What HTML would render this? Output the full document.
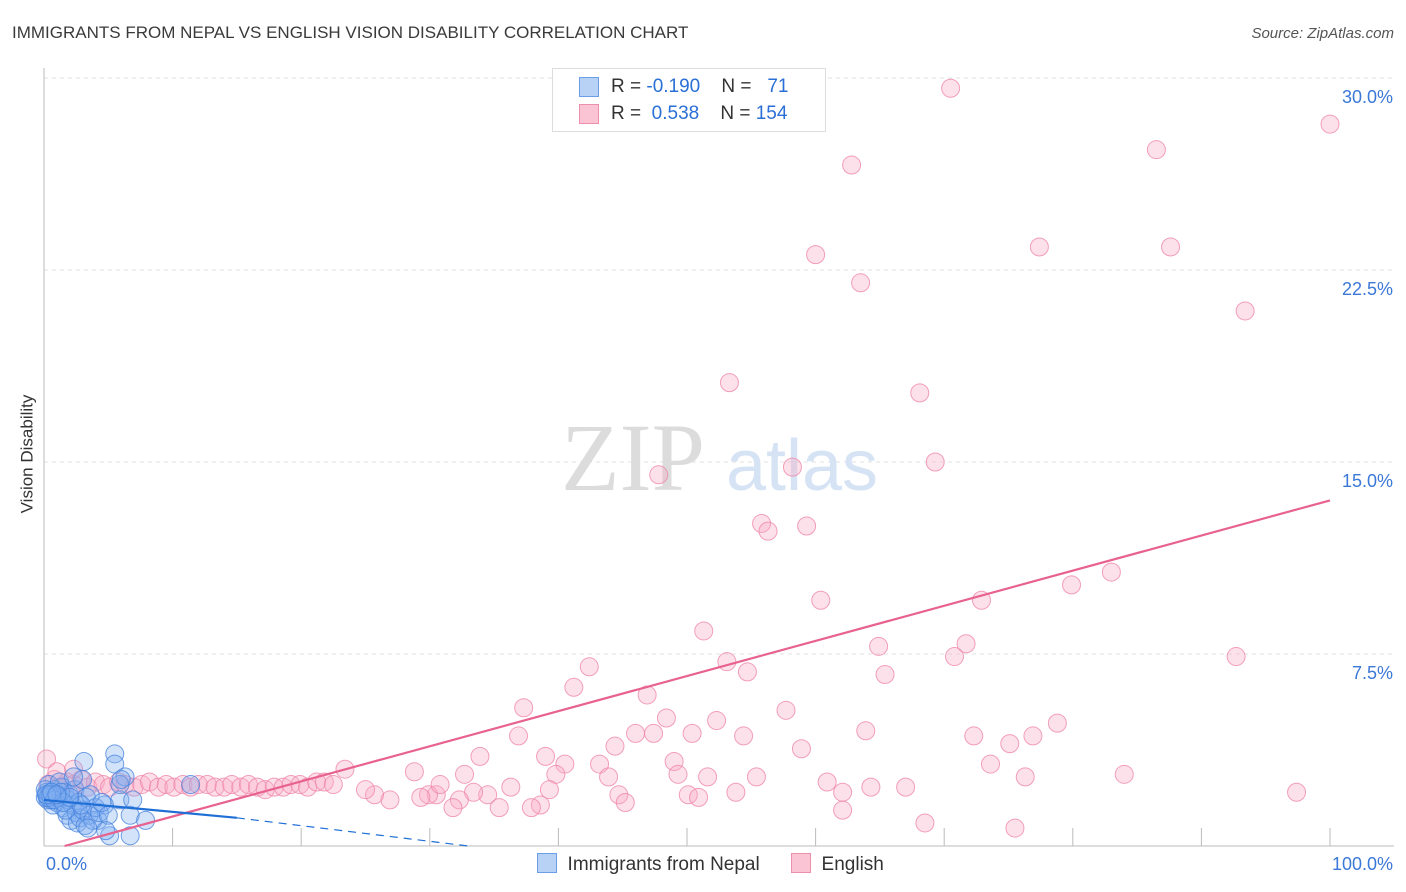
<!DOCTYPE html>
<html><head><meta charset="utf-8">
<style>
body{margin:0;background:#fff;font-family:"Liberation Sans",sans-serif;}
#wrap{position:relative;width:1406px;height:892px;overflow:hidden;}
.t{position:absolute;white-space:nowrap;}
</style></head>
<body>
<div id="wrap">
<div class="t" style="left:12px;top:23px;font-size:17px;color:#3a3a3a;">IMMIGRANTS FROM NEPAL VS ENGLISH VISION DISABILITY CORRELATION CHART</div>
<div class="t" style="right:12px;top:25px;font-size:15px;color:#555;font-style:italic;">Source: ZipAtlas.com</div>
<svg id="plot" width="1406" height="892" style="position:absolute;left:0;top:0"></svg>
<div class="t" style="left:-32px;top:444px;font-size:17px;color:#333;transform:rotate(-90deg);">Vision Disability</div>
<div style="position:absolute;left:552px;top:68px;width:272px;height:62px;border:1px solid #ddd;background:#fff;font-size:19px;">
  <div style="position:absolute;left:26px;top:8px;width:18px;height:18px;background:#b8d2f5;border:1px solid #6a9ee6;"></div>
  <div class="t" style="left:58px;top:7px;color:#333">R = <span style="color:#2a6fd6">-0.190</span>&nbsp;&nbsp;&nbsp; N = &nbsp;&nbsp;<span style="color:#2a6fd6">71</span></div>
  <div style="position:absolute;left:26px;top:35px;width:18px;height:18px;background:#fac4d4;border:1px solid #ee8fae;"></div>
  <div class="t" style="left:58px;top:34px;color:#333">R = &nbsp;<span style="color:#2a6fd6">0.538</span>&nbsp;&nbsp;&nbsp; N = <span style="color:#2a6fd6">154</span></div>
</div>
<div style="position:absolute;left:537px;top:853px;font-size:19px;color:#333;">
  <span style="display:inline-block;width:18px;height:18px;background:#b8d2f5;border:1px solid #6a9ee6;vertical-align:-3px"></span>&nbsp; Immigrants from Nepal
  <span style="display:inline-block;width:18px;height:18px;background:#fac4d4;border:1px solid #ee8fae;vertical-align:-3px;margin-left:26px"></span>&nbsp; English
</div>
</div>
<script>
const xTickLabels=["0.0%","100.0%"];
const yTicks=[7.5,15,22.5,30];
const yTickLabels=["7.5%","15.0%","22.5%","30.0%"];
const englishX=[70.5,100,86.5,62.8,60.0,77.4,87.6,63.5,93.4,53.3,68.1,47.8,58.2,69.3,55.8,59.3,56.3,83.0,79.9,60.4,72.9,51.3,64.9,71.7,70.8,92.7,42.4,53.1,65.4,54.7,41.2,46.9,37.3,57.7,48.4,52.3,78.8,63.9,36.9,46.0,47.4,50.4,54.4,72.3,76.9,75.1,44.4,58.9,33.9,39.0,49.0,40.5,43.2,73.6,84.0,76.3,51.6,55.4,49.3,60.9,32.7,39.8,43.9,28.8,23.4,97.4,67.0,64.3,62.1,53.8,50.1,50.9,44.7,45.2,39.3,36.3,34.5,33.4,32.3,31.8,30.5,29.9,29.3,26.9,25.7,25.0,38.6,37.9,35.4,62.1,68.5,75.5,30.8,
0.3,0.8,1.2,1.8,2.3,2.9,3.4,4.0,4.6,5.1,5.8,6.3,7.0,7.6,8.2,8.9,9.5,10.1,10.8,11.4,12.0,12.7,13.3,14.0,14.6,15.3,15.9,16.6,17.2,17.9,18.6,19.2,19.9,20.5,21.2,21.8,22.5,0.2,1.0,2.3];
const englishY=[29.6,28.2,27.2,26.6,23.1,23.4,23.4,22.0,20.9,18.1,17.7,14.5,14.8,15.0,12.6,12.5,12.3,10.7,10.2,9.6,9.6,8.4,7.8,7.9,7.4,7.4,7.0,7.2,6.7,6.8,6.2,5.9,5.4,5.3,5.0,4.9,4.8,4.5,4.3,4.4,4.4,4.4,4.3,4.3,4.3,4.0,3.9,3.8,3.5,3.5,3.3,3.2,3.2,3.2,2.8,2.7,2.7,2.7,2.8,2.5,2.8,2.8,2.7,2.9,3.0,2.1,2.3,2.3,2.1,2.1,2.0,1.9,2.0,1.7,2.2,2.3,2.0,2.1,1.8,1.5,2.0,2.0,1.9,1.8,2.0,2.2,1.6,1.5,1.5,1.4,0.9,0.7,2.4,
2.4,2.6,2.3,2.5,2.4,2.6,2.3,2.5,2.4,2.3,2.5,2.4,2.3,2.4,2.5,2.3,2.4,2.3,2.4,2.3,2.4,2.4,2.3,2.3,2.4,2.3,2.4,2.3,2.2,2.3,2.3,2.4,2.4,2.3,2.5,2.5,2.4,3.4,2.9,3.0];
const nepalX=[3.1,5.5,5.5,6.3,11.4,5.9,4.7,4.2,6.7,7.9,5.1,6.7,6.9,5.9,0.2,0.3,0.5,0.6,0.8,1.0,1.1,1.3,1.4,1.5,1.6,1.8,1.9,2.0,2.1,2.2,2.4,2.5,2.6,2.7,2.8,3.0,3.0,3.2,3.3,3.5,3.6,3.8,4.0,4.3,0.4,0.7,1.2,1.7,2.3,2.9,4.5,5.0,6.0,3.4,4.8,0.1,0.2,0.4,0.6,0.9,1.1,1.3,0.1,0.3,0.5,0.8,1.5,2.0,0.2,0.6,1.0];
const nepalY=[3.3,3.6,3.2,2.7,2.4,1.8,1.6,1.0,1.2,1.0,0.4,0.4,1.8,2.4,2.0,1.8,2.1,1.9,2.2,1.7,2.0,1.9,2.3,1.5,2.1,1.2,1.8,2.0,1.0,1.6,2.2,1.3,0.9,1.7,1.1,2.6,1.4,0.8,1.9,1.2,2.0,1.0,1.5,1.3,2.4,1.6,2.5,1.4,2.7,1.6,1.7,1.2,2.6,0.7,0.6,1.9,2.1,2.0,1.8,2.0,1.9,2.1,2.2,1.9,2.0,1.8,1.7,1.9,2.0,2.1,2.0];
const englishTrend=[[1.6,0],[100,13.5]];
const nepalTrend=[[0,1.8],[15,1.1],[33,0]];

const X0=44,X1=1330,Y0=846,PER=192/7.5;
const sx=v=>X0+(X1-X0)*v/100;
const sy=v=>Y0-v*PER;
const svg=document.getElementById('plot');
const NS='http://www.w3.org/2000/svg';
function mk(t,a){const e=document.createElementNS(NS,t);for(const k in a)e.setAttribute(k,a[k]);svg.appendChild(e);return e;}
yTicks.forEach((v,i)=>{
  const g=mk('line',{x1:X0,x2:1394,y1:sy(v),y2:sy(v),stroke:'#e2e2e2','stroke-dasharray':'4,4'});
  
  
  const t=mk('text',{x:1393,y:sy(v)+25,'text-anchor':'end','font-size':'18',fill:'#3b78d8','font-family':'Liberation Sans'});
  t.textContent=yTickLabels[i];
  
  
});
const ax=mk('line',{x1:X0,x2:X0,y1:68,y2:Y0,stroke:'#bbb'});


const bx=mk('line',{x1:X0,x2:1394,y1:Y0,y2:Y0,stroke:'#bbb'});


for(let i=1;i<=10;i++){
  const tk=mk('line',{x1:sx(i*10),x2:sx(i*10),y1:828,y2:Y0,stroke:'#bbb'});
  
  
}
[[0,'start',46],[100,'end',1393]].forEach((d,i)=>{
  const t=mk('text',{x:d[2],y:870,'text-anchor':d[1],'font-size':'18',fill:'#3b78d8','font-family':'Liberation Sans'});
  t.textContent=xTickLabels[i];
  
  
});
const w1=mk('text',{x:633,y:490,'text-anchor':'middle','font-size':'96','font-family':'Liberation Serif',fill:'#dcdcdc'});
w1.textContent='ZIP';


const w2=mk('text',{x:802,y:490,'text-anchor':'middle','font-size':'72','font-family':'Liberation Sans',fill:'#d6e3f5'});
w2.textContent='atlas';


englishX.forEach((x,i)=>{
  const c=mk('circle',{cx:sx(x),cy:sy(englishY[i]),r:9,fill:'rgba(248,170,195,0.35)',stroke:'rgba(238,130,165,0.75)','stroke-width':1});
  
  
});
nepalX.forEach((x,i)=>{
  const c=mk('circle',{cx:sx(x),cy:sy(nepalY[i]),r:9,fill:'rgba(130,175,240,0.35)',stroke:'rgba(70,130,220,0.75)','stroke-width':1});
  
  
});
const pl=mk('line',{x1:sx(englishTrend[0][0]),y1:sy(englishTrend[0][1]),x2:sx(englishTrend[1][0]),y2:sy(englishTrend[1][1]),stroke:'#e8628f','stroke-width':2.2});


const bl=mk('line',{x1:sx(nepalTrend[0][0]),y1:sy(nepalTrend[0][1]),x2:sx(nepalTrend[1][0]),y2:sy(nepalTrend[1][1]),stroke:'#1f6fd6','stroke-width':2.2});


const bd=mk('line',{x1:sx(nepalTrend[1][0]),y1:sy(nepalTrend[1][1]),x2:sx(nepalTrend[2][0]),y2:sy(nepalTrend[2][1]),stroke:'#1f6fd6','stroke-width':1.2,'stroke-dasharray':'8,6'});


</script>
</body></html>
